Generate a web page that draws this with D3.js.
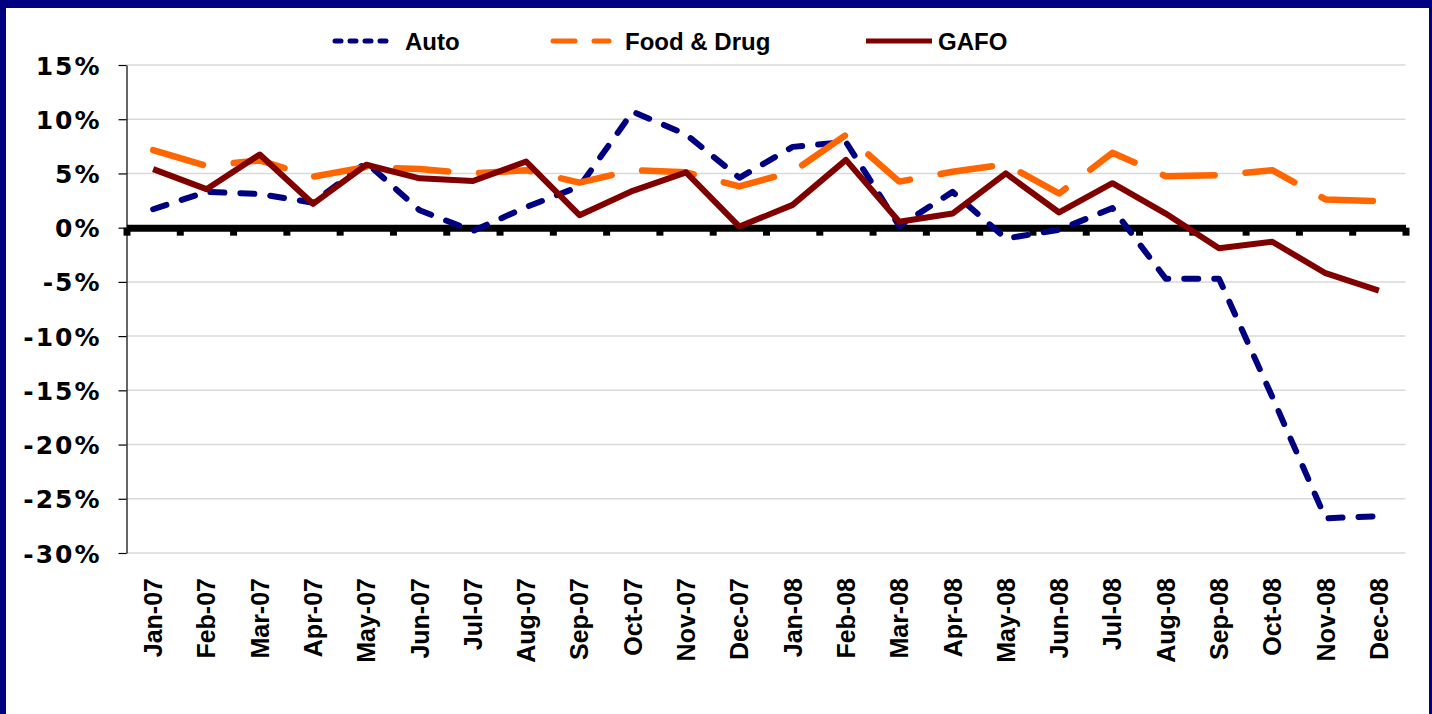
<!DOCTYPE html>
<html>
<head>
<meta charset="utf-8">
<script src="https://cdn.jsdelivr.net/npm/d3@7"></script>
<style>
  html, body { margin: 0; padding: 0; background: #fff; }
  svg { display: block; }
</style>
</head>
<body>
<svg id="chart" width="1432" height="714"></svg>
<script>
// Data (year-over-year % change)
const months = ["Jan-07", "Feb-07", "Mar-07", "Apr-07", "May-07", "Jun-07", "Jul-07", "Aug-07",
  "Sep-07", "Oct-07", "Nov-07", "Dec-07", "Jan-08", "Feb-08", "Mar-08", "Apr-08",
  "May-08", "Jun-08", "Jul-08", "Aug-08", "Sep-08", "Oct-08", "Nov-08", "Dec-08"];
const autoValues = [1.7, 3.3, 3.1, 2.3, 6.0, 1.6, -0.3, 1.9, 3.8, 10.7, 8.6, 4.6,
  7.45, 7.9, 0.15, 3.3, -1.0, -0.2, 1.8, -4.7, -4.7, -15.6, -26.8, -26.6];
const foodValues = [7.15, 5.7, 6.2, 4.7, 5.6, 5.4, 5.0, 5.3, 4.15, 5.3, 5.1, 3.8,
  5.15, 8.55, 4.25, 5.15, 5.85, 3.15, 6.9, 4.75, 4.85, 5.3, 2.6, 2.45];
const gafoValues = [5.4, 3.55, 6.75, 2.2, 5.8, 4.55, 4.3, 6.1, 1.15, 3.4, 5.1, 0.1,
  2.1, 6.25, 0.55, 1.3, 5.0, 1.4, 4.1, 1.3, -1.9, -1.3, -4.2, -5.8];
const seriesNames = ["Auto", "Food & Drug", "GAFO"];
const yTicks = [15, 10, 5, 0, -5, -10, -15, -20, -25, -30];
const yTickLabels = ["15%", "10%", "5%", "0%", "-5%", "-10%", "-15%", "-20%", "-25%", "-30%"];

const svg = d3.select("#chart");
const W = +svg.attr("width");
const H = +svg.attr("height");
const navy = "#000080";

// frame
svg.append("rect").attr("x", 0).attr("y", 0).attr("width", W).attr("height", H).attr("fill", "#fff");
svg.append("rect").attr("x", 0).attr("y", 0).attr("width", W).attr("height", 8).attr("fill", navy);
svg.append("rect").attr("x", 0).attr("y", 0).attr("width", 6).attr("height", H).attr("fill", navy);
svg.append("rect").attr("x", W - 3).attr("y", 0).attr("width", 3).attr("height", H).attr("fill", navy);

const plotLeft = 126.5, plotRight = 1405.5, plotTop = 65, plotBottom = 553;

const x = d3.scaleBand().domain(months).range([plotLeft, plotRight]).paddingInner(0).paddingOuter(0);
const xb = d3.scaleLinear().domain([0, months.length]).range([plotLeft, plotRight]); // category boundaries
const y = d3.scaleLinear().domain([-30, 15]).range([plotBottom, plotTop]);
const cx = m => x(m) + x.bandwidth() / 2;

// gridlines
svg.append("g")
  .selectAll("line")
  .data(yTicks.filter(d => d !== 0))
  .enter()
  .append("line")
  .attr("x1", plotLeft).attr("x2", plotRight)
  .attr("y1", d => y(d)).attr("y2", d => y(d))
  .attr("stroke", "#d9d9d9")
  .attr("stroke-width", 1.5);

// y axis
const yAxis = svg.append("g")
  .attr("transform", `translate(${plotLeft},0)`)
  .call(d3.axisLeft(y).tickValues(yTicks).tickSize(8).tickSizeOuter(0).tickPadding(17)
    .tickFormat((d, i) => yTickLabels[i]));
yAxis.select(".domain").attr("stroke", "#000").attr("stroke-width", 1.2);
yAxis.selectAll(".tick line").attr("stroke", "#000").attr("stroke-width", 1.2);
yAxis.selectAll(".tick text")
  .attr("fill", "#000")
  .style("font-family", "'DejaVu Sans', Verdana, sans-serif")
  .style("font-weight", "bold")
  .style("font-size", "25px")
  .style("letter-spacing", "2px")
  .attr("dy", "0.36em");

// zero line with category ticks
const zeroAxis = svg.append("g")
  .attr("transform", `translate(0,${y(0)})`)
  .call(d3.axisBottom(xb).tickValues(d3.range(months.length + 1)).tickSize(8).tickSizeOuter(0)
    .tickFormat(""));
zeroAxis.select(".domain").attr("stroke", "#000").attr("stroke-width", 7);
zeroAxis.selectAll(".tick line").attr("stroke", "#000").attr("stroke-width", 7);

// month labels
const xAxis = svg.append("g")
  .attr("transform", "translate(0,578)")
  .call(d3.axisBottom(x).tickSize(0));
xAxis.select(".domain").remove();
xAxis.selectAll(".tick text")
  .attr("x", 0).attr("y", 0)
  .attr("dy", "0.36em")
  .attr("transform", "rotate(-90)")
  .attr("text-anchor", "end")
  .attr("fill", "#000")
  .style("font-family", "'Liberation Sans', Arial, sans-serif")
  .style("font-weight", "bold")
  .style("font-size", "25px");

// series
const series = [
  { name: seriesNames[0], values: autoValues, color: "#000080", width: 6, dash: "14,16", legendDash: "6,9" },
  { name: seriesNames[1], values: foodValues, color: "#FF6600", width: 6.5, dash: "52,31", legendDash: "22,19" },
  { name: seriesNames[2], values: gafoValues, color: "#800000", width: 6, dash: null, legendDash: null }
];

const line = d3.line()
  .x((d, i) => cx(months[i]))
  .y(d => y(d));

svg.append("g")
  .selectAll("path")
  .data(series)
  .enter()
  .append("path")
  .attr("d", d => line(d.values))
  .attr("fill", "none")
  .attr("stroke", d => d.color)
  .attr("stroke-width", d => d.width)
  .attr("stroke-dasharray", d => d.dash)
  .attr("stroke-linecap", d => d.dash ? "round" : "butt")
  .attr("stroke-linejoin", "round");

// legend
const legendPos = [333, 551, 864];
const legend = svg.append("g")
  .selectAll("g")
  .data(series)
  .enter()
  .append("g")
  .attr("transform", (d, i) => `translate(${legendPos[i]},41)`);

legend.append("line")
  .attr("x1", 2).attr("x2", d => d.dash ? 58 : 68)
  .attr("y1", 0).attr("y2", 0)
  .attr("stroke", d => d.color)
  .attr("stroke-width", 5)
  .attr("stroke-dasharray", d => d.legendDash)
  .attr("stroke-linecap", d => d.dash ? "round" : "butt");

legend.append("text")
  .attr("x", (d, i) => i === 0 ? 72 : 74)
  .attr("y", 8.5)
  .attr("fill", "#000")
  .style("font-family", "'Liberation Sans', Arial, sans-serif")
  .style("font-weight", "bold")
  .style("font-size", "24px")
  .text(d => d.name);
</script>
</body>
</html>
